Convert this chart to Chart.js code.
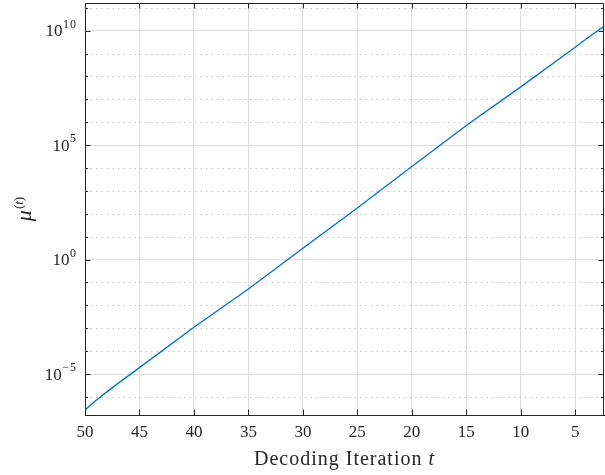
<!DOCTYPE html>
<html>
<head>
<meta charset="utf-8">
<script src="https://cdn.jsdelivr.net/npm/chart.js@4.4.0/dist/chart.umd.min.js"></script>
<style>
  html, body { margin: 0; padding: 0; background: #fff; }
  #wrap { width: 605px; height: 475px; }
</style>
</head>
<body>
<div id="wrap"><canvas id="chart-mu"></canvas></div>
<script>
// values (t = decoding iteration, mu = mu^(t))
const iterations = [50, 49, 48, 47, 46, 45, 40, 35, 30, 25, 20, 15, 10, 5, 4, 3, 2];
const muValues = [2.7e-7, 6.9e-7, 1.66e-6, 3.8e-6, 8.5e-6, 1.9e-5, 1.1e-3, 5.2e-2, 3.1, 178, 1.17e4, 7.2e5, 3.5e7, 1.9e9, 4.3e9, 9.5e9, 2.1e10];

const xTicks = [50, 45, 40, 35, 30, 25, 20, 15, 10, 5];
const yMajorExps = [-5, 0, 5, 10];
const yMinorExps = [-6, -4, -3, -2, -1, 1, 2, 3, 4, 6, 7, 8, 9, 11];

const axisColor = '#262626';
const gridColor = '#dedede';
const minorGridColor = '#c4c4c4';
const lineColor = '#0072bd';
const serif = "'Liberation Serif', 'Times New Roman', serif";

const points = iterations.map((t, i) => ({ x: t, y: muValues[i] }));

function isMajor(v) {
    return Math.round(Math.log10(v)) % 5 === 0;
}

// dotted minor grid, inward ticks, box, y labels with exponents, axis titles
const matlabAxes = {
    id: 'matlabAxes',
    beforeDatasetsDraw(chart) {
        const { ctx, chartArea: a, scales: { y } } = chart;
        ctx.save();
        ctx.strokeStyle = minorGridColor;
        ctx.lineWidth = 1;
        ctx.setLineDash([1.5, 4]);
        yMinorExps.forEach(e => {
            const py = Math.round(y.getPixelForValue(Math.pow(10, e))) + 0.5;
            ctx.beginPath();
            ctx.moveTo(a.left, py);
            ctx.lineTo(a.right, py);
            ctx.stroke();
        });
        ctx.restore();
    },
    afterDraw(chart) {
        const { ctx, chartArea: a, scales: { x, y } } = chart;
        ctx.save();
        ctx.strokeStyle = axisColor;
        ctx.lineWidth = 1;

        // top and right sides of the box
        ctx.beginPath();
        ctx.moveTo(a.left, a.top + 0.5);
        ctx.lineTo(a.right, a.top + 0.5);
        ctx.moveTo(a.right - 0.5, a.top);
        ctx.lineTo(a.right - 0.5, a.bottom);
        ctx.stroke();

        // x ticks, top and bottom
        ctx.beginPath();
        xTicks.forEach(v => {
            const px = Math.round(x.getPixelForValue(v)) + 0.5;
            ctx.moveTo(px, a.bottom);
            ctx.lineTo(px, a.bottom - 5.5);
            ctx.moveTo(px, a.top);
            ctx.lineTo(px, a.top + 5.5);
        });
        // y ticks, left and right
        yMajorExps.concat(yMinorExps).forEach(e => {
            const len = yMajorExps.includes(e) ? 5.5 : 3;
            const py = Math.round(y.getPixelForValue(Math.pow(10, e))) + 0.5;
            ctx.moveTo(a.left, py);
            ctx.lineTo(a.left + len, py);
            ctx.moveTo(a.right, py);
            ctx.lineTo(a.right - len, py);
        });
        ctx.stroke();

        // y tick labels 10^e
        ctx.fillStyle = axisColor;
        ctx.textBaseline = 'alphabetic';
        const labelRight = a.left - 8;
        yMajorExps.forEach(e => {
            const py = y.getPixelForValue(Math.pow(10, e));
            const sup = (e < 0 ? '\u2212' : '') + Math.abs(e);
            ctx.font = '12px ' + serif;
            ctx.letterSpacing = '1px';
            const supW = ctx.measureText(sup).width;
            ctx.textAlign = 'left';
            ctx.fillText(sup, labelRight - supW, py - 3);
            ctx.font = '17px ' + serif;
            ctx.letterSpacing = '0px';
            ctx.textAlign = 'right';
            ctx.fillText('10', labelRight - supW - 0.5, py + 5.8);
        });

        // x axis title
        ctx.textAlign = 'left';
        ctx.letterSpacing = '1px';
        ctx.font = '20px ' + serif;
        const part1 = 'Decoding Iteration ';
        const w1 = ctx.measureText(part1).width;
        ctx.font = 'italic 20px ' + serif;
        const w2 = ctx.measureText('t').width;
        const cx = (a.left + a.right) / 2;
        let sx = cx - (w1 + w2) / 2;
        ctx.font = '20px ' + serif;
        ctx.fillText(part1, sx, 465);
        ctx.font = 'italic 20px ' + serif;
        ctx.fillText('t', sx + w1, 465);

        // y axis title mu^(t)
        ctx.letterSpacing = '0px';
        ctx.translate(31, (a.top + a.bottom) / 2);
        ctx.rotate(-Math.PI / 2);
        ctx.font = 'italic 22px ' + serif;
        const wm = ctx.measureText('\u03bc').width;
        ctx.font = '13px ' + serif;
        const ws = ctx.measureText('(t)').width;
        const start = -(wm + ws + 1) / 2;
        ctx.font = 'italic 22px ' + serif;
        ctx.fillText('\u03bc', start, 0);
        ctx.font = '13px ' + serif;
        ctx.fillText('(', start + wm + 1, -8);
        const wp = ctx.measureText('(').width;
        ctx.font = 'italic 13px ' + serif;
        ctx.fillText('t', start + wm + 1 + wp, -8);
        const wt = ctx.measureText('t').width;
        ctx.font = '13px ' + serif;
        ctx.fillText(')', start + wm + 1 + wp + wt, -8);
        ctx.restore();
    }
};

function loadGraph() {
    const config = {
        type: 'line',
        data: {
            datasets: [{
                data: points,
                borderColor: lineColor,
                backgroundColor: lineColor,
                borderWidth: 1.3,
                pointRadius: 0,
                fill: false,
                tension: 0
            }]
        },
        options: {
            responsive: true,
            maintainAspectRatio: false,
            animation: false,
            layout: { padding: { top: 3, right: 1, left: 0, bottom: 0 } },
            plugins: {
                legend: { display: false },
                title: { display: false },
                tooltip: { enabled: false }
            },
            scales: {
                x: {
                    type: 'linear',
                    reverse: true,
                    min: 2.36,
                    max: 50,
                    afterBuildTicks: scale => {
                        scale.ticks = xTicks.map(v => ({ value: v }));
                    },
                    afterFit: scale => { scale.height = 60; },
                    grid: { color: gridColor, drawTicks: false },
                    border: { color: axisColor, width: 1 },
                    ticks: {
                        autoSkip: false,
                        maxRotation: 0,
                        padding: 7,
                        color: axisColor,
                        font: { family: serif, size: 17 }
                    }
                },
                y: {
                    type: 'logarithmic',
                    min: 1.62e-7,
                    max: 1.62e11,
                    afterBuildTicks: scale => {
                        scale.ticks = yMajorExps.concat(yMinorExps)
                            .sort((p, q) => p - q)
                            .map(e => ({ value: Math.pow(10, e) }));
                    },
                    afterFit: scale => { scale.width = 85; },
                    grid: {
                        drawTicks: false,
                        color: c => (c.tick && isMajor(c.tick.value)) ? gridColor : 'rgba(0,0,0,0)'
                    },
                    border: { color: axisColor, width: 1 },
                    ticks: { display: false }
                }
            }
        },
        plugins: [matlabAxes]
    };

    const ctx = document.getElementById('chart-mu').getContext('2d');
    new Chart(ctx, config);
}

document.addEventListener('DOMContentLoaded', loadGraph);
</script>
</body>
</html>
